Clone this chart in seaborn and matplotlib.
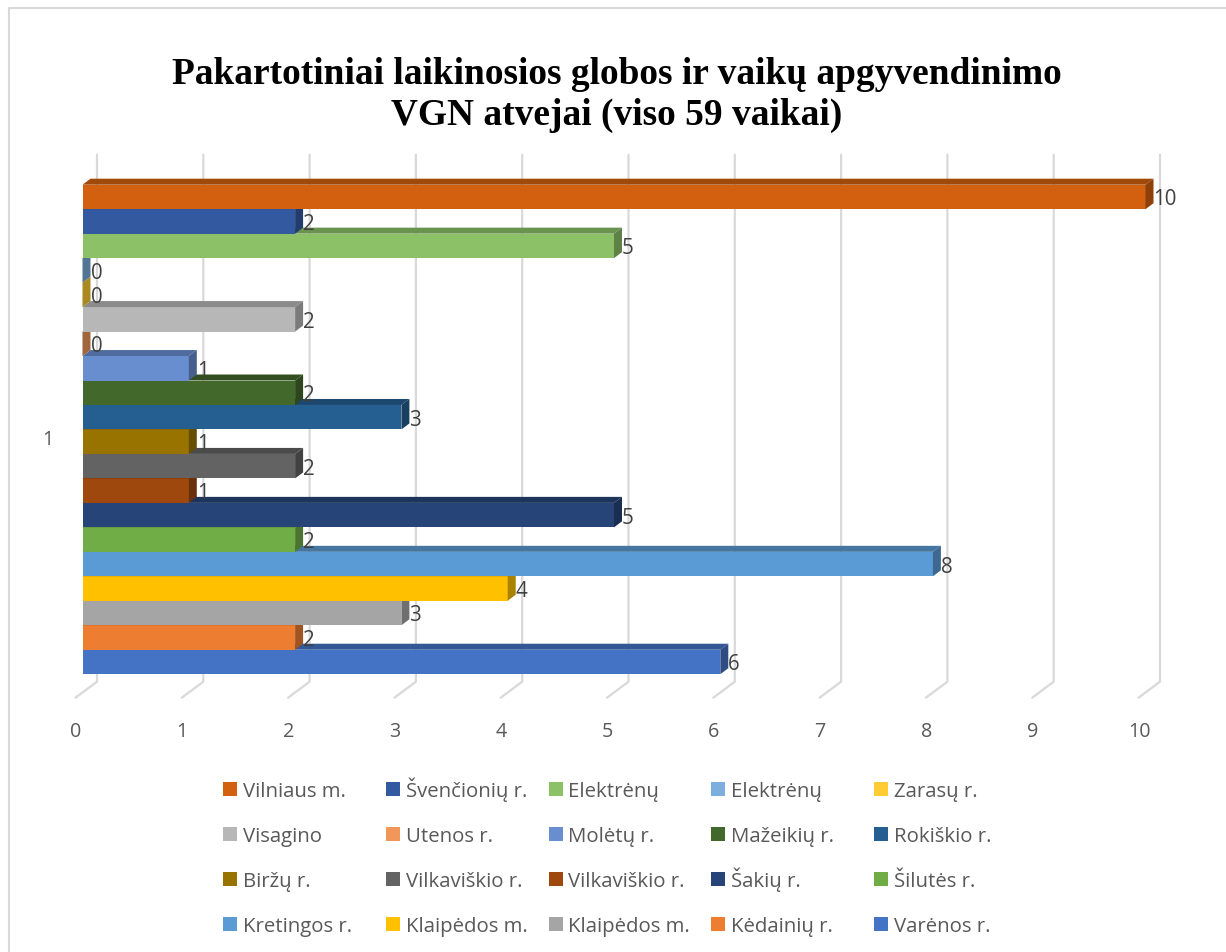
import matplotlib
matplotlib.use("Agg")
import matplotlib.pyplot as plt
import matplotlib.colors as mcolors
from matplotlib.lines import Line2D
from matplotlib.patches import Polygon, Rectangle
from matplotlib.transforms import ScaledTranslation
import pandas as pd
import seaborn as sns

# ------------------------------------------------------------
# Datos
# ------------------------------------------------------------
savivaldybes = [
    "Vilniaus m.", "Švenčionių r.", "Elektrėnų", "Elektrėnų", "Zarasų r.",
    "Visagino", "Utenos r.", "Molėtų r.", "Mažeikių r.", "Rokiškio r.",
    "Biržų r.", "Vilkaviškio r.", "Vilkaviškio r.", "Šakių r.", "Šilutės r.",
    "Kretingos r.", "Klaipėdos m.", "Klaipėdos m.", "Kėdainių r.", "Varėnos r.",
]
vaikai = [10, 2, 5, 0, 0, 2, 0, 1, 2, 3, 1, 2, 1, 5, 2, 8, 4, 3, 2, 6]
spalvos = [
    "#D2600F", "#335AA1", "#8CC168", "#7CAFDD", "#FFCD33",
    "#B7B7B7", "#F1975A", "#698ED0", "#43682B", "#255E91",
    "#997300", "#636363", "#9E480E", "#264478", "#70AD47",
    "#5B9BD5", "#FFC000", "#A5A5A5", "#ED7D31", "#4472C4",
]
kategorija = "1"
x_ticks = list(range(11))
pavadinimas = "Pakartotiniai laikinosios globos ir vaikų apgyvendinimo\nVGN atvejai (viso 59 vaikai)"

W, H = 1226, 953
FONT = "Open Sans"
TEKSTAS = "#595959"
TINKLELIS = "#D9D9D9"

sns.set_style("white")
plt.rcParams["font.family"] = [FONT, "DejaVu Sans"]

fig = plt.figure(figsize=(W / 100, H / 100), dpi=100, facecolor="white")
ax = fig.add_axes([82.5 / W, 1 - 675.2 / H, 1063 / W, 489.5 / H])

# Un identificador por serie, porque hay nombres repetidos
df = pd.DataFrame({
    "kategorija": [kategorija] * len(vaikai),
    "vaikai": vaikai,
    "serija": [str(i) for i in range(len(vaikai))],
})
sns.barplot(
    data=df, y="kategorija", x="vaikai", hue="serija", palette=spalvos,
    width=1, gap=0, saturation=1, legend=False, ax=ax, linewidth=0, edgecolor="none",
)

ax.set_xlim(0, 10)
ax.set_ylim(0.5, -0.5)
sns.despine(ax=ax, left=True, bottom=True)
ax.set_xlabel("")
ax.set_ylabel("")

# Un pixel en unidades de datos
px = 10 / 1063
py = 1 / 489.5
gylis_x, gylis_y = 8 * px, 6 * py

# Pared y suelo del gráfico 3D
for k in x_ticks:
    x_g = k + 14.5 * px
    ax.plot([x_g, x_g, k - 7 * px], [-0.5 - 30 * py, 0.5 + 7.5 * py, 0.5 + 23.5 * py],
            color=TINKLELIS, lw=1.6, clip_on=False, zorder=1)

# Caras superior y lateral de cada barra
for i, cont in enumerate(ax.containers):
    bar = cont[0]
    z = 10 + (len(vaikai) - i)
    bar.set_zorder(z)
    x1 = bar.get_width()
    y0, y1 = bar.get_y(), bar.get_y() + bar.get_height()
    base = mcolors.to_rgb(spalvos[i])
    virsus = [c * 0.76 for c in base]
    sonas = [c * 0.67 for c in base]
    if x1 > 0:
        ax.add_patch(Polygon(
            [(0, y0), (gylis_x, y0 - gylis_y), (x1 + gylis_x, y0 - gylis_y), (x1, y0)],
            facecolor=virsus, edgecolor="none", clip_on=False, zorder=z))
    ax.add_patch(Polygon(
        [(x1, y0), (x1 + gylis_x, y0 - gylis_y), (x1 + gylis_x, y1 - gylis_y), (x1, y1)],
        facecolor=sonas, edgecolor="none", clip_on=False, zorder=z))
    bar.set_clip_on(False)
    etiquetas = ax.bar_label(cont, padding=5.8, fontsize=14.8, color="#404040", zorder=50,
                             fontfamily=[FONT, "DejaVu Sans"])
    for t in etiquetas:
        t.xyann = (t.xyann[0], -1.4)

# Ejes
ax.set_xticks(x_ticks)
ax.tick_params(axis="both", length=0, labelsize=14.2, labelcolor=TEKSTAS)
ax.tick_params(axis="x", pad=33.5)
ax.tick_params(axis="y", pad=21)
desp_x = ScaledTranslation(-6.5 / 100, 0, fig.dpi_scale_trans)
for lab in ax.get_xticklabels():
    lab.set_transform(lab.get_transform() + desp_x)
desp_y = ScaledTranslation(0, -7 / 100, fig.dpi_scale_trans)
for lab in ax.get_yticklabels():
    lab.set_transform(lab.get_transform() + desp_y)

# Título
fig.text(617 / W, 1 - 95 / H, pavadinimas, ha="center", va="center",
         fontfamily="Liberation Serif", fontweight="bold", fontsize=26.9,
         color="black", linespacing=1.25)

# Leyenda: 5 columnas de ancho fijo y 4 filas
n_cols = 5
for j, (nombre, color) in enumerate(zip(savivaldybes, spalvos)):
    fila, col = j // n_cols, j % n_cols
    x_l = 223 + 162.75 * col
    y_l = 797 + 45 * fila
    fig.add_artist(Rectangle((x_l / W, 1 - y_l / H), 14 / W, 14 / H, facecolor=color,
                             edgecolor="none", transform=fig.transFigure))
    fig.text((x_l + 20) / W, 1 - y_l / H, nombre, ha="left", va="baseline",
             fontsize=14.7, color=TEKSTAS)

# Marco del gráfico (solo se ve a la izquierda y arriba)
fig.add_artist(Line2D([8.5 / W, 8.5 / W, 1], [0, 1 - 9 / H, 1 - 9 / H],
                      transform=fig.transFigure, color=TINKLELIS, lw=1.5))

fig.savefig("out.png", dpi=100)
